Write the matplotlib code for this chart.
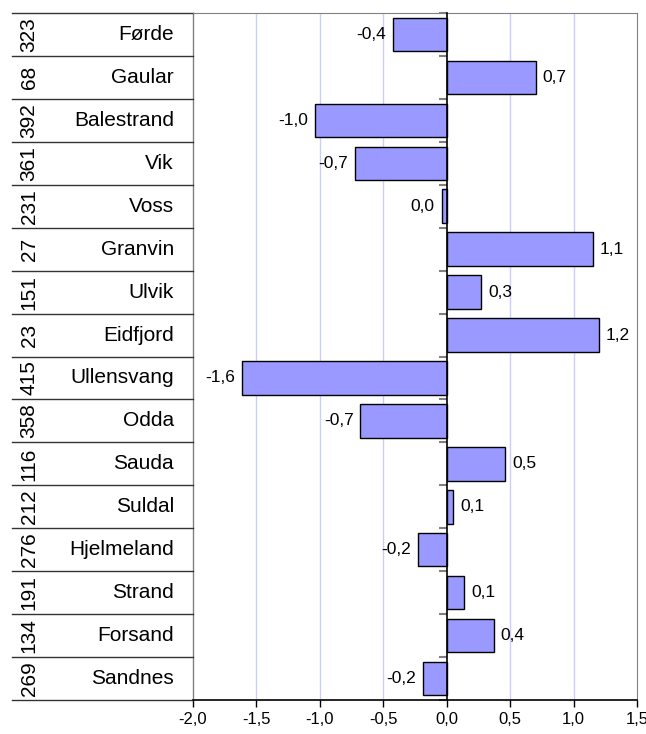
import matplotlib
matplotlib.use("Agg")
import matplotlib.pyplot as plt
from matplotlib.ticker import FuncFormatter, FixedLocator

# -----------------------------
# Data
# -----------------------------
names = ["Førde", "Gaular", "Balestrand", "Vik", "Voss", "Granvin", "Ulvik",
         "Eidfjord", "Ullensvang", "Odda", "Sauda", "Suldal", "Hjelmeland",
         "Strand", "Forsand", "Sandnes"]
ranks = ["323", "68", "392", "361", "231", "27", "151", "23", "415", "358",
         "116", "212", "276", "191", "134", "269"]
values = [-0.42, 0.70, -1.04, -0.72, -0.04, 1.15, 0.27, 1.20, -1.61, -0.68,
          0.46, 0.05, -0.23, 0.14, 0.37, -0.19]
x_ticks = [-2.0, -1.5, -1.0, -0.5, 0.0, 0.5, 1.0, 1.5]

BAR_COLOR = "#9999FF"
GRID_COLOR = "#CCCCFF"
FRAME_GRAY = "#808080"

plt.rcParams["font.family"] = ["Liberation Sans", "DejaVu Sans"]

W, H = 646, 734
fig = plt.figure(figsize=(W / 100, H / 100), dpi=100)
left, right, top, bottom = 193, 637, 13, 700
ax = fig.add_axes([left / W, (H - bottom) / H, (right - left) / W, (bottom - top) / H])


def fmt(v):
    s = f"{v:.1f}"
    if s == "-0.0":
        s = "0.0"
    return s.replace(".", ",")


n = len(values)
pos = list(range(n))
ax.barh(pos, values, height=0.78, color=BAR_COLOR, edgecolor="black",
        linewidth=1.0, zorder=3)

ax.set_xlim(-2.0, 1.5)
ax.set_ylim(n - 0.5, -0.5)

# grid
for x in x_ticks[1:-1]:
    if x != 0:
        ax.axvline(x, color=GRID_COLOR, linewidth=1.0, zorder=1)

# bar labels
for p, v in zip(pos, values):
    if v >= 0:
        ax.annotate(fmt(v), (v, p), xytext=(5, 0), textcoords="offset points",
                    ha="left", va="center", fontsize=12.5, zorder=4)
    else:
        ax.annotate(fmt(v), (v, p), xytext=(-5, 0), textcoords="offset points",
                    ha="right", va="center", fontsize=12.5, zorder=4)

# axes: zero line with category ticks
ax.spines["left"].set_position(("data", 0))
ax.spines["left"].set_color("black")
ax.spines["left"].set_linewidth(1.2)
ax.spines["left"].set_zorder(5)
ax.yaxis.set_major_locator(FixedLocator([k - 0.5 for k in range(n + 1)]))
ax.tick_params(axis="y", direction="out", length=6, width=1.5, color=FRAME_GRAY,
               labelleft=False)

ax.spines["top"].set_color(FRAME_GRAY)
ax.spines["right"].set_color(FRAME_GRAY)
ax.spines["bottom"].set_color("black")
ax.spines["bottom"].set_linewidth(1.2)
ax.axvline(-2.0, color=FRAME_GRAY, linewidth=1.0, clip_on=False, zorder=2)

ax.set_xticks(x_ticks)
ax.xaxis.set_major_formatter(FuncFormatter(lambda v, _: fmt(v)))
ax.tick_params(axis="x", direction="out", length=5, width=1.0, pad=4,
               labelsize=12)

# -----------------------------
# Left table: rank + name
# -----------------------------
tr = ax.get_yaxis_transform()
x_tab = (12 - left) / (right - left)
x_rank = (29 - left) / (right - left)
x_name = (174 - left) / (right - left)

for k in range(n + 1):
    ax.plot([x_tab, 0], [k - 0.5, k - 0.5], color="#333333", linewidth=1.0,
            transform=tr, clip_on=False)

for p, (r, name) in enumerate(zip(ranks, names)):
    ax.text(x_rank, p, r, transform=tr, rotation=90, ha="center", va="center",
            fontsize=15, clip_on=False)
    ax.text(x_name, p, name, transform=tr, ha="right", va="center",
            fontsize=15, clip_on=False)

fig.savefig("out.png", dpi=100)
